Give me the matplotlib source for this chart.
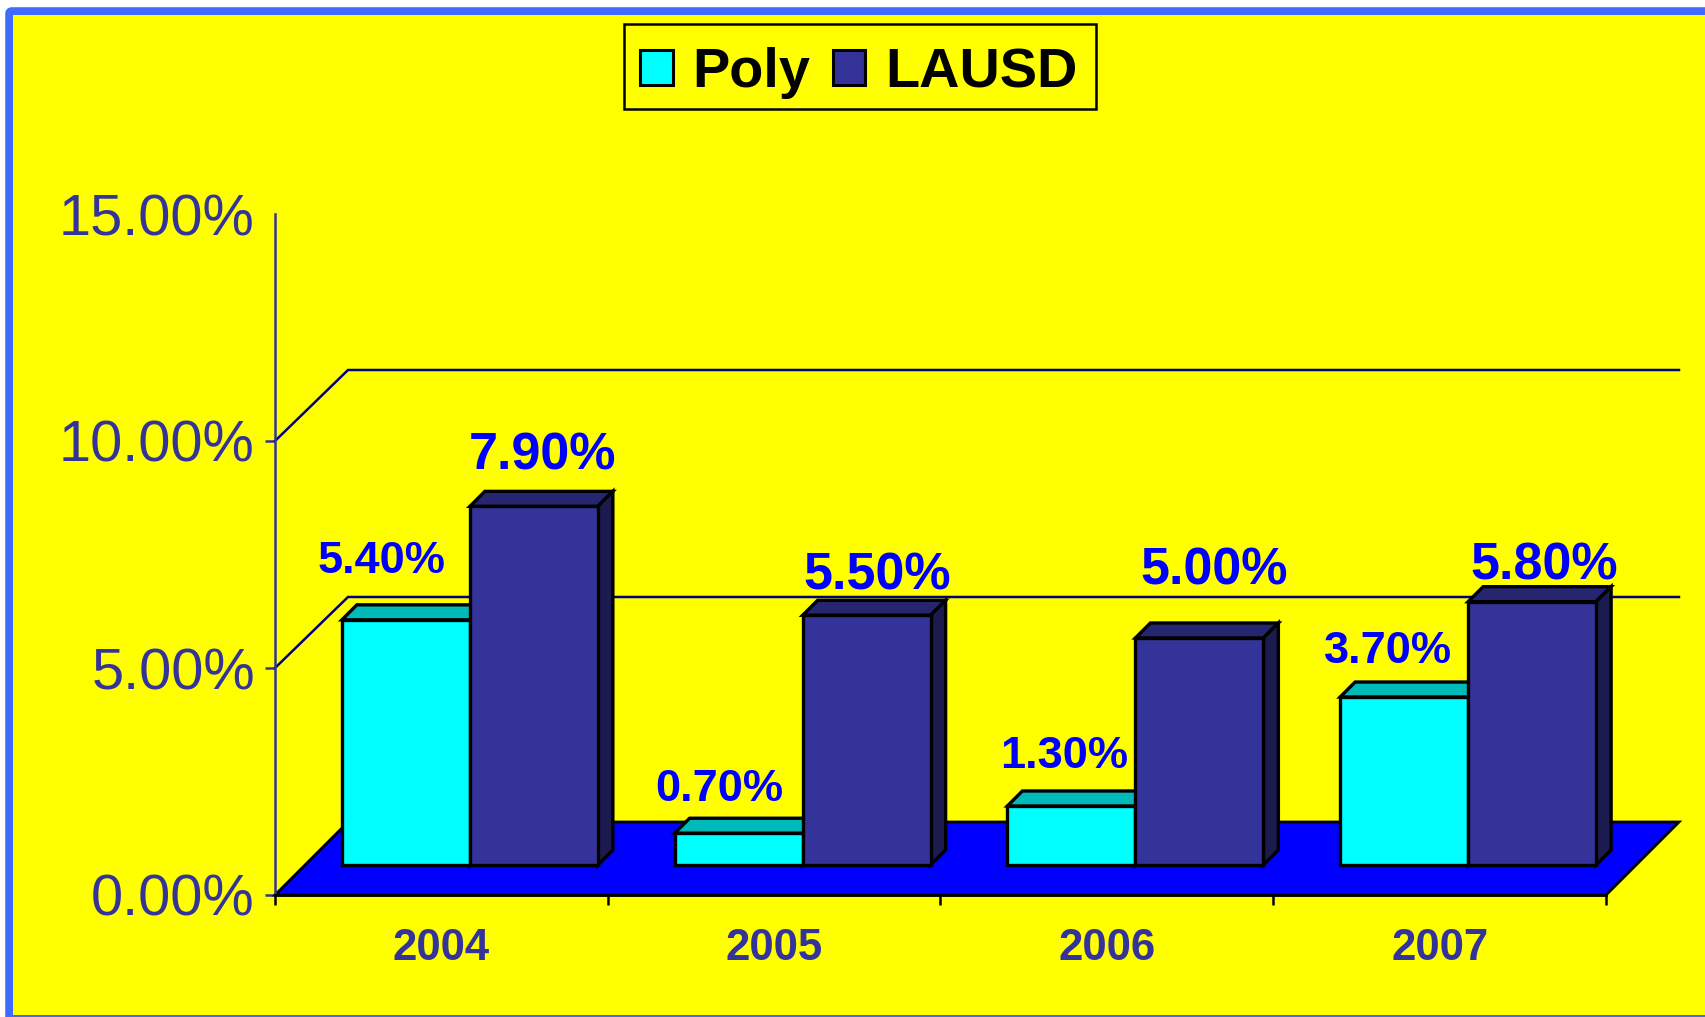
import matplotlib
matplotlib.use("Agg")
import matplotlib.pyplot as plt
from matplotlib.patches import Rectangle, Polygon, Patch, FancyBboxPatch

years = ["2004", "2005", "2006", "2007"]
poly = [5.4, 0.7, 1.3, 3.7]
lausd = [7.9, 5.5, 5.0, 5.8]
y_ticks = [0, 5, 10, 15]
grid_vals = [5, 10]

# label nudges in pixels, from the top of each bar (hand placed in the original)
poly_nudge = [(-24, 58), (-19, 44), (-7, 49), (-16, 46)]
lausd_nudge = [(9, 50), (11, 39), (15, 67), (12, 36)]

W, H = 1706, 1017
L, R, Y0, PX_PER = 275, 1606, 895, 45.4
NAVY = "#333399"

plt.rcParams["font.family"] = ["Liberation Sans", "DejaVu Sans"]

fig = plt.figure(figsize=(W / 100, H / 100), dpi=100, facecolor="white")

# page background and border
bg = fig.add_axes([0, 0, 1, 1], zorder=0)
bg.set_xlim(0, W)
bg.set_ylim(H, 0)
bg.axis("off")
bg.add_patch(FancyBboxPatch((8, 10), W + 20, H + 20, boxstyle="round,pad=0,rounding_size=4",
                            fc="#3f6bff", ec="#3f6bff", lw=4))
bg.add_patch(Rectangle((13, 15), W, H - 17, fc="#ffff00", ec="none"))
# legend box
bg.add_patch(Rectangle((624, 24), 472, 85, fc="#ffff00", ec="black", lw=1.8))

ax = fig.add_axes([L / W, 1 - Y0 / H, (R - L) / W, 15 * PX_PER / H], zorder=1)
ax.patch.set_visible(False)
ax.set_xlim(0, 4)
ax.set_ylim(0, 15)

sx = 4 / (R - L)      # data units per pixel, x
sy = 1 / PX_PER       # data units per pixel, y
wall_dx, wall_dy = 73 * sx, 71 * sy
floor_dy = 73 * sy
bar_dx, bar_dy = 15 * sx, 15 * sy
shift_x, shift_y = 28.5 * sx, 30 * sy
bar_w = 128 * sx

# gridlines run back along the side wall, then across the back
for v in grid_vals:
    ax.plot([0, wall_dx, 4 + wall_dx], [v, v + wall_dy, v + wall_dy], color="#000080",
            lw=1.8, clip_on=False, zorder=2, solid_joinstyle="miter")

# floor
ax.add_patch(Polygon([(0, 0), (4, 0), (4 + wall_dx, floor_dy), (wall_dx, floor_dy)], closed=True,
                     fc="#0000ff", ec="black", lw=2, clip_on=False, zorder=3))


def draw_bars(xs, vals, front, top, side, z):
    ax.bar(xs, vals, width=bar_w, bottom=shift_y, align="edge", color=front,
           edgecolor="black", linewidth=2.4, zorder=z + 1, clip_on=False)
    for x, v in zip(xs, vals):
        y = shift_y + v
        ax.add_patch(Polygon([(x, y), (x + bar_w, y), (x + bar_w + bar_dx, y + bar_dy), (x + bar_dx, y + bar_dy)],
                             closed=True, fc=top, ec="black", lw=2.4, zorder=z, clip_on=False))
        ax.add_patch(Polygon([(x + bar_w, shift_y), (x + bar_w + bar_dx, shift_y + bar_dy),
                              (x + bar_w + bar_dx, y + bar_dy), (x + bar_w, y)],
                             closed=True, fc=side, ec="black", lw=2.4, zorder=z, clip_on=False))


centers = [i + 0.5 + shift_x for i in range(len(years))]
poly_x = [c - bar_w for c in centers]
lausd_x = list(centers)

draw_bars(poly_x, poly, "#00ffff", "#00b9b9", "#00b9b9", 4)
draw_bars(lausd_x, lausd, NAVY, "#262670", "#1b1b4f", 6)

# value labels
for x, v, (dx, dy) in zip(poly_x, poly, poly_nudge):
    ax.annotate(f"{v:.2f}%", (x + bar_w / 2, shift_y + v), xytext=(dx * 0.72, dy * 0.72),
                textcoords="offset points", ha="center", va="center", color="#0000ff",
                fontsize=32.5, fontweight="bold", zorder=10, annotation_clip=False)
for x, v, (dx, dy) in zip(lausd_x, lausd, lausd_nudge):
    ax.annotate(f"{v:.2f}%", (x + bar_w / 2, shift_y + v), xytext=(dx * 0.72, dy * 0.72),
                textcoords="offset points", ha="center", va="center", color="#0000ff",
                fontsize=37.5, fontweight="bold", zorder=10, annotation_clip=False)

# axes
for s in ["top", "right"]:
    ax.spines[s].set_visible(False)
ax.spines["left"].set_color(NAVY)
ax.spines["left"].set_linewidth(1.8)
ax.spines["left"].set_zorder(9)
ax.spines["bottom"].set_color("black")
ax.spines["bottom"].set_linewidth(2)
ax.spines["bottom"].set_zorder(9)

ax.set_yticks(y_ticks)
ax.set_yticklabels([f"{v:.2f}%" for v in y_ticks])
ax.tick_params(axis="y", length=7, width=1.8, color=NAVY, labelcolor=NAVY, labelsize=41.6, pad=7.5)
ax.yaxis.get_major_ticks()[-1].tick1line.set_visible(False)

ax.set_xticks(range(len(years) + 1))
ax.set_xticklabels([])
ax.tick_params(axis="x", which="major", length=7.5, width=1.8, color="black")
ax.set_xticks([i + 0.5 for i in range(len(years))], minor=True)
ax.set_xticklabels(years, minor=True, fontsize=31.5, fontweight="bold", color=NAVY)
ax.tick_params(axis="x", which="minor", length=0, pad=24)

# legend
handles = [Patch(fc="#00ffff", ec="black", lw=2.2, label="Poly"),
           Patch(fc=NAVY, ec="black", lw=2.2, label="LAUSD")]
leg = fig.legend(handles=handles, ncol=2, loc="center", bbox_to_anchor=(859 / W, 1 - 73 / H),
                 prop={"size": 40.2, "weight": "bold"}, frameon=False,
                 handlelength=0.58, handleheight=0.58, handletextpad=0.36, columnspacing=0.4,
                 borderpad=0.45, borderaxespad=0)
leg.set_zorder(20)

fig.savefig("out.png", dpi=100)
